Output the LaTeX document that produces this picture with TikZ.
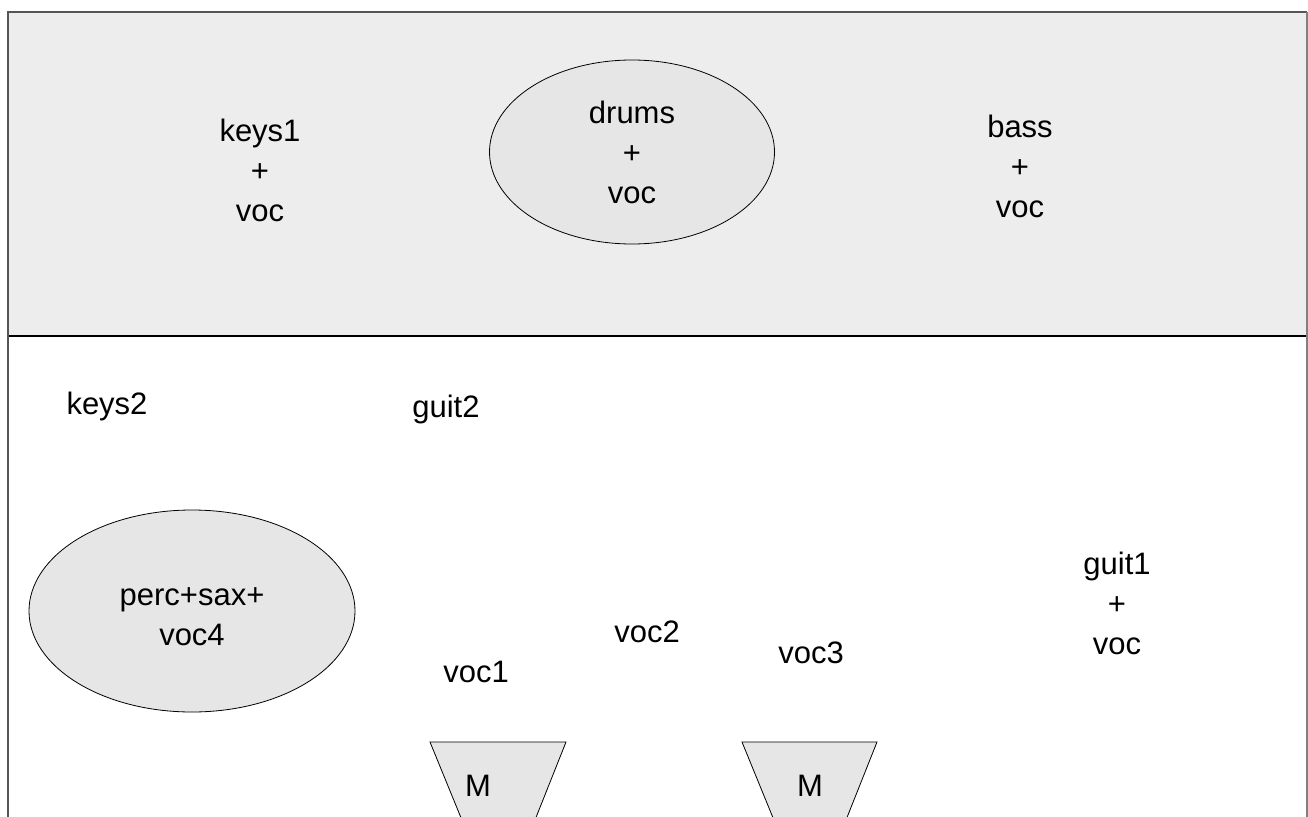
\documentclass[tikz,border=0pt]{standalone}
\usepackage{fontspec}
\setmainfont{Liberation Sans}
\usetikzlibrary{shapes.geometric}
\tikzset{
  lbl/.style={font=\fontsize{31}{40}\selectfont, align=center, inner sep=0pt},
  blob/.style={ellipse, draw=black, line width=0.8pt, fill=ellfill},
  mon/.style={draw=black, line width=0.8pt, fill=monfill},
}
\definecolor{stagefill}{HTML}{EDEDED}
\definecolor{ellfill}{HTML}{E6E6E6}
\definecolor{monfill}{HTML}{E6E6E6}
\definecolor{framecol}{HTML}{555555}
\begin{document}
\begin{tikzpicture}[x=1pt,y=-1pt]
\useasboundingbox (0,0) rectangle (1308,816);
\clip (0,0) rectangle (1308,816);
% stage
\fill[stagefill] (8,12) rectangle (1307,336);
\draw[black, line width=1.5pt] (8,336) -- (1307,336);
\draw[framecol, line width=2pt] (8,830) -- (8,12) -- (1307,12);
\draw[gray, line width=2pt] (1307,12) -- (1307,830);
% ellipses
\node[blob, minimum width=285pt, minimum height=184pt] (drumsE) at (632,152) {};
\node[blob, minimum width=326pt, minimum height=202pt] (percE) at (192,611) {};
% monitors
\path[mon] (430,742) -- (566,742) -- (531,830) -- (466,830) -- cycle;
\path[mon] (742,742) -- (877,742) -- (842,830) -- (778,830) -- cycle;
% texts
\node[lbl] (keys1) at (260,170) {keys1\\+\\voc};
\node[lbl] (drums) at (632,152) {drums\\+\\voc};
\node[lbl] (bass) at (1020,166) {bass\\+\\voc};
\node[lbl] (keys2) at (107,406) {keys2};
\node[lbl] (guit2) at (446,409) {guit2};
\node[lbl] (guit1) at (1117,603) {guit1\\+\\voc};
\node[lbl] (perc) at (192,617) {perc+sax+\\voc4};
\node[lbl] (voc2) at (647,632) {voc2};
\node[lbl] (voc3) at (811,653) {voc3};
\node[lbl] (voc1) at (476,672) {voc1};
\node[lbl] (m1) at (478,786) {M};
\node[lbl] (m2) at (810,786) {M};
\end{tikzpicture}
\end{document}
